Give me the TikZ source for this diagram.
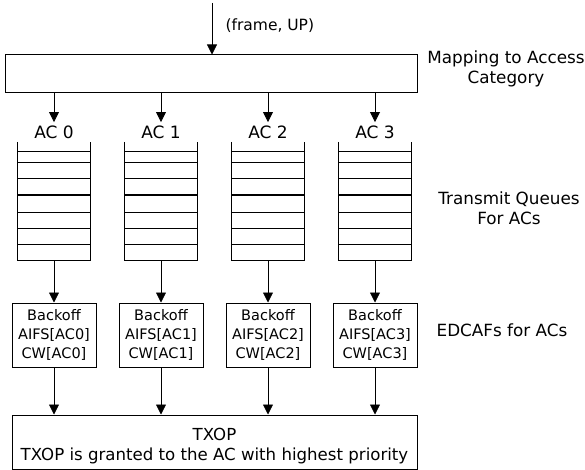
\documentclass[tikz,border=0pt]{standalone}
\usepackage{fontspec}
\setmainfont{DejaVu Sans}
\usetikzlibrary{arrows.meta}
\tikzset{
  flow/.style={-{Triangle[width=10pt,length=10pt]}, line width=0.8pt},
  unitbox/.style={draw, line width=1pt, inner sep=0pt},
  sidetext/.style={font=\fontsize{16.8}{20}\selectfont, align=center},
}

\begin{document}
\begin{tikzpicture}[x=1pt,y=-1pt]
\useasboundingbox (0,0) rectangle (585,470);

\node[unitbox, minimum width=412pt, minimum height=38pt] (map) at (211,74) {};
\coordinate (In) at (212,3);
\draw[flow] (In) -- (In |- map.north);
\node[anchor=west, font=\fontsize{15.5}{18}\selectfont] (frame) at (222,26) {(frame, UP)};
\node[sidetext] (maplabel) at (506,69) {Mapping to Access\\Category};

\node[unitbox, minimum width=405pt, minimum height=54pt] (txop) at (214.5,442) {};
\node[font=\fontsize{16.6}{20}\selectfont, align=center] (txoptext) at (214.5,446)
    {TXOP\\TXOP is granted to the AC with highest priority};

\foreach \i in {0,...,3}{
  \pgfmathsetmacro{\cx}{54+107*\i}
  \coordinate (Top\i) at (\cx,93);
  \node[font=\fontsize{17}{20}\selectfont] (ac\i) at (\cx,132) {AC \i};
  \draw[flow] (Top\i) -- (ac\i.north);
  \node[minimum width=73pt, minimum height=118pt, inner sep=0pt] (q\i) at (\cx,201) {};
  \draw[line width=1pt] (q\i.north west) -- (q\i.south west) -- (q\i.south east) -- (q\i.north east);
  \foreach \y in {152,163,179,195,212,228,244}
    \draw[line width=1pt] (q\i.west |- 0,\y) -- (q\i.east |- 0,\y);
  \node[unitbox, minimum width=84pt, minimum height=64pt,
        font=\fontsize{14.5}{19}\selectfont, align=center] (bo\i) at (\cx,335)
      {Backoff\\AIFS[AC\i]\\CW[AC\i]};
  \draw[flow] (q\i.south) -- (bo\i.north);
  \draw[flow] (bo\i.south) -- (bo\i.south |- txop.north);
}

\node[sidetext] (queuelabel) at (509,208) {Transmit Queues\\For ACs};
\node[sidetext] (edcalabel) at (502,330) {EDCAFs for ACs};

\end{tikzpicture}
\end{document}
